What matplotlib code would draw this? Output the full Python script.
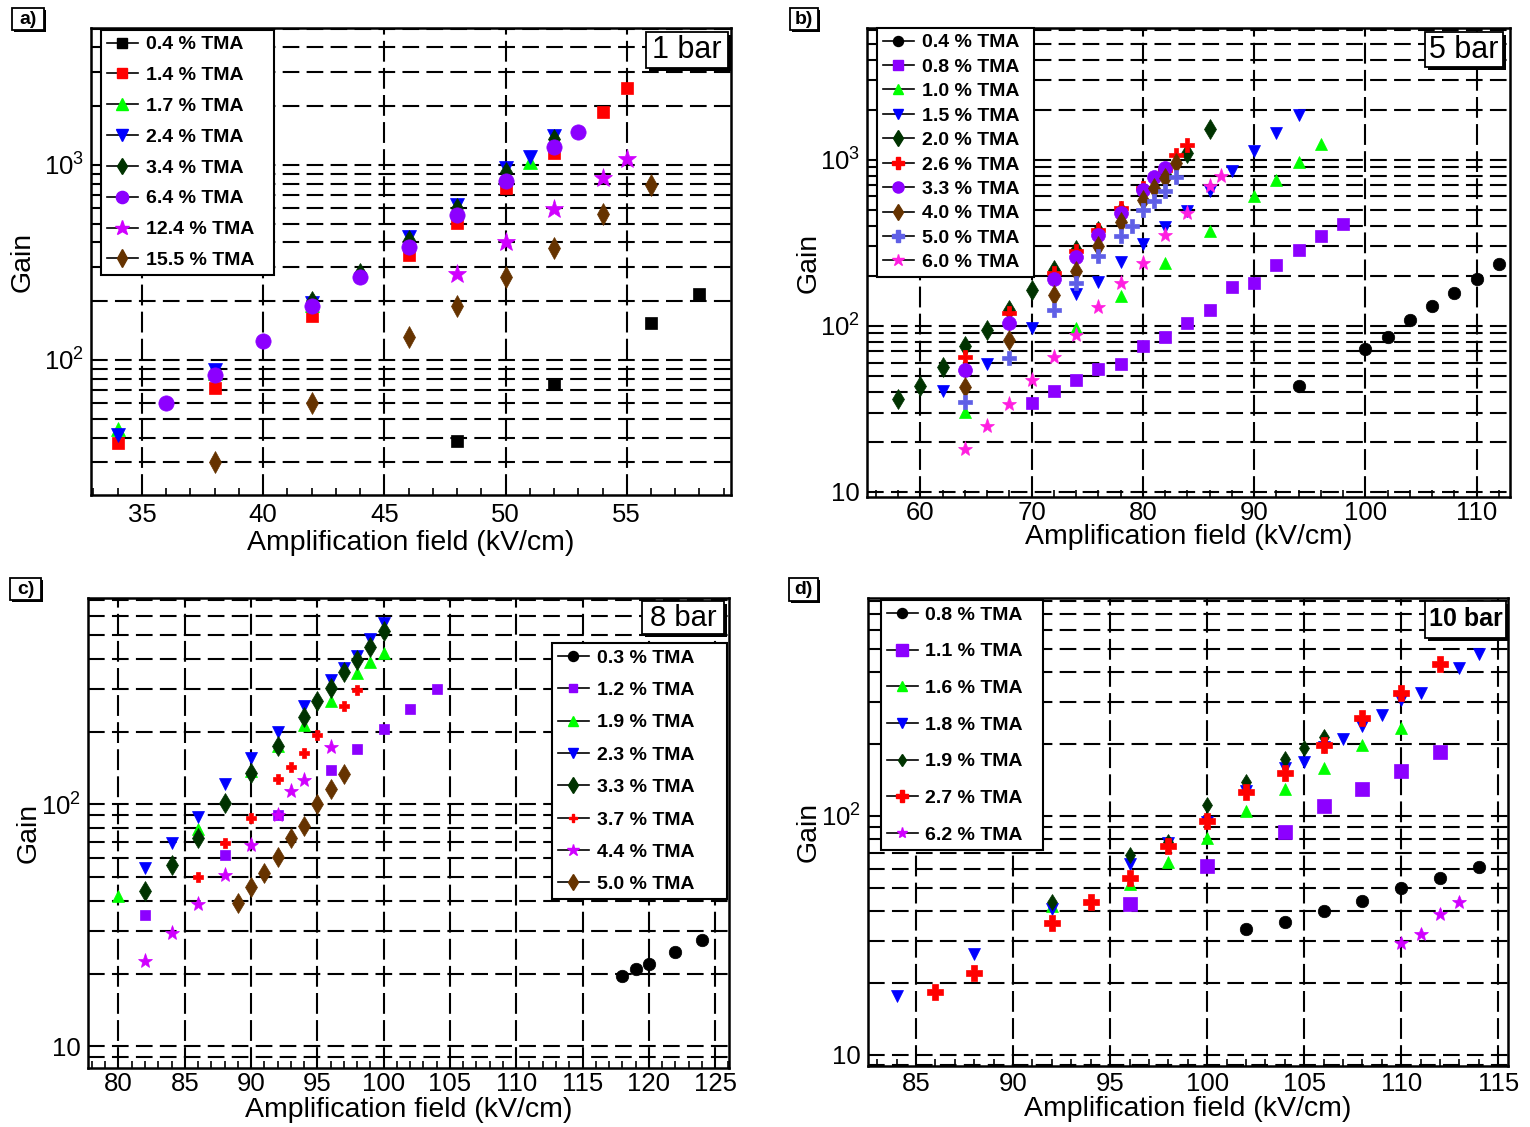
import numpy as np
import matplotlib
matplotlib.use("Agg")
import matplotlib.pyplot as plt
from matplotlib.lines import Line2D
from matplotlib.patches import Rectangle
from matplotlib.ticker import MultipleLocator, LogLocator, FuncFormatter, NullFormatter

plt.rcParams['font.family'] = ['Liberation Sans', 'DejaVu Sans']

W, H = 1530, 1127

# ---- a) 1 bar ----
a_x_04 = [48, 52, 56, 58]
a_g_04 = [38.5, 75, 155, 218]
a_x_14 = [34, 38, 42, 46, 48, 50, 52, 54, 55]
a_g_14 = [37.5, 72, 167, 345, 505, 765, 1150, 1876, 2470]
a_x_17 = [34, 38, 42, 44, 46, 48, 50, 51, 52]
a_g_17 = [44, 86, 192, 283, 410, 590, 900, 1040, 1330]
a_x_24 = [34, 38, 42, 46, 48, 50, 51, 52]
a_g_24 = [41, 89, 195, 425, 620, 962, 1103, 1410]
a_x_34 = [42, 44, 46, 48, 50, 52]
a_g_34 = [200, 280, 410, 600, 920, 1360]
a_x_64 = [36, 38, 40, 42, 44, 46, 48, 50, 52, 53]
a_g_64 = [60, 83.5, 125, 188, 266, 381, 552, 830, 1230, 1482]
a_x_124 = [48, 50, 52, 54, 55]
a_g_124 = [275, 404, 593, 855, 1069]
a_x_155 = [38, 42, 46, 48, 50, 52, 54, 56]
a_g_155 = [30, 60, 131, 189, 267, 374, 559, 789]

# ---- b) 5 bar ----
b_x_04 = [94, 100, 102, 104, 106, 108, 110, 112]
b_g_04 = [43.4, 72, 86, 108, 132, 157, 191, 235]
b_x_08 = [70, 72, 74, 76, 78, 80, 82, 84, 86, 88, 90, 92, 94, 96, 98]
b_g_08 = [34.4, 40.6, 47, 55, 58.6, 75, 86, 104.5, 124, 172, 180, 233, 284, 345, 411]
b_x_10 = [64, 74, 78, 82, 86, 90, 92, 94, 96]
b_g_10 = [30.3, 96.6, 151, 237, 373, 601, 757, 963, 1249]
b_x_15 = [62, 66, 70, 74, 76, 78, 80, 82, 84, 86, 88, 90, 92, 94]
b_g_15 = [40.6, 59, 96.6, 155, 184, 241, 311, 393, 488, 644, 851, 1122, 1449, 1868]
b_x_20 = [58, 60, 62, 64, 66, 68, 70, 72, 74, 76, 78, 80, 82, 84, 86]
b_g_20 = [36, 43.4, 56.6, 75, 94.4, 124, 164, 215, 285, 370, 490, 650, 820, 1100, 1531]
b_x_26 = [64, 68, 72, 74, 76, 78, 80, 82, 83, 84]
b_g_26 = [65, 119, 209, 280, 375, 508, 675, 870, 1060, 1231]
b_x_33 = [64, 68, 72, 74, 76, 78, 80, 81, 82]
b_g_33 = [54, 104.5, 191, 259, 353, 479, 655, 790, 891]
b_x_40 = [64, 68, 72, 74, 76, 78, 80, 81, 82, 83]
b_g_40 = [43, 82, 153, 212, 300, 421, 570, 670, 776, 955]
b_x_50 = [64, 68, 72, 74, 76, 78, 79, 80, 81, 82, 83]
b_g_50 = [34.9, 63.7, 124, 180, 261, 345, 400, 495, 561, 650, 790]
b_x_60 = [64, 66, 68, 70, 72, 74, 76, 78, 80, 82, 84, 86, 87]
b_g_60 = [18.2, 24.9, 33.8, 47, 64.6, 88, 129, 181, 238, 353, 479, 690, 801]

# ---- c) 8 bar ----
c_x_03 = [118, 119, 120, 122, 124]
c_g_03 = [19.6, 20.8, 22, 24.5, 27.5]
c_x_12 = [82, 88, 92, 96, 98, 100, 102, 104]
c_g_12 = [35, 62, 90.6, 139, 170, 205, 249, 300]
c_x_19 = [80, 86, 90, 92, 94, 96, 98, 99, 100]
c_g_19 = [41.7, 79, 138, 175, 213, 268, 350, 389, 423]
c_x_23 = [82, 84, 86, 88, 90, 92, 94, 96, 97, 98, 99, 100]
c_g_23 = [54.4, 69, 88.5, 122, 155, 199, 255, 327, 367, 410, 484, 560]
c_x_33 = [82, 84, 86, 88, 90, 92, 94, 95, 96, 97, 98, 99, 100]
c_g_33 = [43.7, 56, 72.6, 101.6, 135, 175, 230, 268, 304, 352, 397, 449, 520]
c_x_37 = [86, 88, 90, 92, 93, 94, 95, 97, 98]
c_g_37 = [50, 69, 87.7, 127, 143, 163, 193, 255, 298]
c_x_44 = [82, 84, 86, 88, 90, 92, 93, 94, 96]
c_g_44 = [22.5, 29.4, 38.7, 51, 68, 90.6, 113.5, 126, 173]
c_x_50 = [89, 90, 91, 92, 93, 94, 95, 96, 97]
c_g_50 = [39, 45.6, 52, 60.8, 72.6, 81.4, 100, 116, 134]

# ---- d) 10 bar ----
d_x_08 = [102, 104, 106, 108, 110, 112, 114]
d_g_08 = [33.7, 36, 40, 44, 50, 55, 61]
d_x_11 = [96, 100, 104, 106, 108, 110, 112]
d_g_11 = [42.7, 61.5, 86, 110, 130, 154, 185]
d_x_16 = [92, 96, 98, 100, 102, 104, 106, 108, 110]
d_g_16 = [42, 52, 64, 81, 104.5, 130, 159, 198, 234]
d_x_18 = [84, 88, 92, 96, 98, 100, 102, 104, 105, 106, 107, 108, 109, 110, 111, 113, 114]
d_g_18 = [17.6, 26.3, 40.6, 62.8, 76.8, 94.5, 127, 159, 169, 195, 211, 238, 265, 305, 327, 416, 476]
d_x_19 = [92, 96, 98, 100, 102, 104, 105, 106]
d_g_19 = [43.7, 68.7, 78, 111, 139, 174, 193, 215]
d_x_27 = [86, 88, 92, 94, 96, 98, 100, 102, 104, 106, 108, 110, 112]
d_g_27 = [18.2, 22, 35.7, 43.4, 55, 74.7, 95, 125.6, 151, 198, 258, 327, 434]
d_x_62 = [110, 111, 112, 113]
d_g_62 = [29.4, 32, 39, 43.4]

BLACK = 'black'
RED = '#ff0000'
GREEN = '#00ff00'
BLUE = '#0000ff'
DKGREEN = '#003300'
PURPLE = '#8c00ff'
VIOLET = '#d000ff'
BROWN = '#663300'
SLATE = '#5f5fe6'
PINK = '#ff1ee0'

# (x, gain, label, marker, colour, size)
series_a = [
    (a_x_04, a_g_04, '0.4 % TMA', 's', BLACK, 9),
    (a_x_14, a_g_14, '1.4 % TMA', 's', RED, 9),
    (a_x_17, a_g_17, '1.7 % TMA', '^', GREEN, 10),
    (a_x_24, a_g_24, '2.4 % TMA', 'v', BLUE, 10),
    (a_x_34, a_g_34, '3.4 % TMA', 'd', DKGREEN, 10),
    (a_x_64, a_g_64, '6.4 % TMA', 'o', PURPLE, 11),
    (a_x_124, a_g_124, '12.4 % TMA', '*', VIOLET, 14),
    (a_x_155, a_g_155, '15.5 % TMA', 'd', BROWN, 11),
]
series_b = [
    (b_x_04, b_g_04, '0.4 % TMA', 'o', BLACK, 9),
    (b_x_08, b_g_08, '0.8 % TMA', 's', PURPLE, 9),
    (b_x_10, b_g_10, '1.0 % TMA', '^', GREEN, 9),
    (b_x_15, b_g_15, '1.5 % TMA', 'v', BLUE, 9),
    (b_x_20, b_g_20, '2.0 % TMA', 'd', DKGREEN, 10),
    (b_x_26, b_g_26, '2.6 % TMA', 'P', RED, 10),
    (b_x_33, b_g_33, '3.3 % TMA', 'o', PURPLE, 10),
    (b_x_40, b_g_40, '4.0 % TMA', 'd', BROWN, 10),
    (b_x_50, b_g_50, '5.0 % TMA', 'P', SLATE, 10),
    (b_x_60, b_g_60, '6.0 % TMA', '*', PINK, 11),
]
series_c = [
    (c_x_03, c_g_03, '0.3 % TMA', 'o', BLACK, 9),
    (c_x_12, c_g_12, '1.2 % TMA', 's', PURPLE, 7),
    (c_x_19, c_g_19, '1.9 % TMA', '^', GREEN, 9),
    (c_x_23, c_g_23, '2.3 % TMA', 'v', BLUE, 9),
    (c_x_33, c_g_33, '3.3 % TMA', 'd', DKGREEN, 10),
    (c_x_37, c_g_37, '3.7 % TMA', 'P', RED, 7),
    (c_x_44, c_g_44, '4.4 % TMA', '*', VIOLET, 11),
    (c_x_50, c_g_50, '5.0 % TMA', 'd', BROWN, 10),
]
series_d = [
    (d_x_08, d_g_08, '0.8 % TMA', 'o', BLACK, 9),
    (d_x_11, d_g_11, '1.1 % TMA', 's', PURPLE, 10),
    (d_x_16, d_g_16, '1.6 % TMA', '^', GREEN, 9),
    (d_x_18, d_g_18, '1.8 % TMA', 'v', BLUE, 9),
    (d_x_19, d_g_19, '1.9 % TMA', 'd', DKGREEN, 8),
    (d_x_27, d_g_27, '2.7 % TMA', 'P', RED, 11),
    (d_x_62, d_g_62, '6.2 % TMA', '*', VIOLET, 10),
]

fig = plt.figure(figsize=(W / 100, H / 100), dpi=100)


def gain_fmt(v, pos):
    if abs(v - 10) < 1e-6:
        return '10'
    return r'$\mathdefault{10^{%d}}$' % int(round(np.log10(v)))


def panel(box, xlim, ylim, xmaj, xmin, series, xlab_y, ylab_x, xpad=3):
    l, t, r, b = box
    ax = fig.add_axes([l / W, 1 - b / H, (r - l) / W, (b - t) / H])
    ax.set_yscale('log')
    ax.set_xlim(xlim)
    ax.set_ylim(ylim)
    ax.xaxis.set_major_locator(MultipleLocator(xmaj))
    ax.xaxis.set_minor_locator(MultipleLocator(xmin))
    ax.yaxis.set_major_locator(LogLocator(base=10, numticks=10))
    ax.yaxis.set_minor_locator(LogLocator(base=10, subs=np.arange(2, 10), numticks=30))
    ax.yaxis.set_major_formatter(FuncFormatter(gain_fmt))
    ax.yaxis.set_minor_formatter(NullFormatter())
    ax.tick_params(which='both', direction='in', width=1.2, labelsize=18.5)
    ax.tick_params(axis='x', pad=xpad)
    ax.tick_params(axis='y', pad=5)
    ax.tick_params(which='major', length=10)
    ax.tick_params(which='minor', length=5)
    ax.grid(True, which='major', axis='x', color='black', lw=1.5, linestyle=(0, (10, 3)))
    ax.grid(True, which='both', axis='y', color='black', lw=1.5, linestyle=(0, (8, 3.5)))
    for s in ax.spines.values():
        s.set_linewidth(1.8)
    ax.set_axisbelow(True)
    for x, g, lab, m, c, ms in series:
        ax.plot(x, g, linestyle='none', marker=m, ms=ms, mfc=c, mec=c, mew=0.5)
    ax.set_xlabel('Amplification field (kV/cm)', fontsize=20.5)
    ax.set_ylabel('Gain', fontsize=20.5)
    ax.xaxis.set_label_coords(0.5, xlab_y)
    ax.yaxis.set_label_coords(ylab_x, 0.5)
    return ax


def add_legend(ax, series, x0, top, width, spacing):
    handles = [Line2D([], [], color='black', lw=1.2, marker=m, ms=ms * 0.8, mfc=c, mec=c)
               for x, g, lab, m, c, ms in series]
    labels = [s[2] for s in series]
    leg = ax.legend(handles, labels, loc='upper left', bbox_to_anchor=(x0, 0, width, top),
                    mode='expand', borderaxespad=0,
                    frameon=True, fancybox=False, framealpha=1, edgecolor='black',
                    prop={'weight': 'bold', 'size': 14}, handlelength=1.6,
                    handletextpad=0.4, labelspacing=spacing, borderpad=0.3)
    leg.get_frame().set_linewidth(1.5)
    return leg


def label_box(x0, y0, x1, y1, text, fs, weight='normal', sh=3):
    fig.add_artist(Rectangle(((x0 + sh) / W, 1 - (y1 + sh) / H), (x1 - x0) / W, (y1 - y0) / H,
                             transform=fig.transFigure, fc='black', ec='none', zorder=10))
    fig.add_artist(Rectangle((x0 / W, 1 - y1 / H), (x1 - x0) / W, (y1 - y0) / H,
                             transform=fig.transFigure, fc='white', ec='black', lw=1.3, zorder=11))
    fig.text((x0 + x1) / 2 / W, 1 - (y0 + y1) / 2 / H, text, ha='center', va='center',
             fontsize=fs, fontweight=weight, zorder=12)


ax_a = panel((91, 28, 731, 495), (32.9, 59.3), (20.3, 5030), 5, 1, series_a, -0.076, -0.086, xpad=6)
add_legend(ax_a, series_a, 0.0156, 0.996, 0.27, 0.68)

ax_b = panel((867, 28, 1510, 497), (55.2, 113), (9.3, 6200), 10, 2, series_b, -0.058, -0.07)
add_legend(ax_b, series_b, 0.0156, 1.0, 0.244, 0.35)

ax_c = panel((88, 598, 729, 1068), (77.7, 126.05), (8.14, 713), 5, 1, series_c, -0.062, -0.072)
add_legend(ax_c, series_c, 0.724, 0.904, 0.273, 0.76)

ax_d = panel((867.5, 598, 1508, 1066), (82.5, 115.5), (8.95, 820), 5, 1, series_d, -0.064, -0.071, xpad=4)
add_legend(ax_d, series_d, 0.0206, 0.995, 0.253, 0.98)

label_box(12, 8, 44, 30, 'a)', 14, 'bold', 2)
label_box(790, 8, 818, 30, 'b)', 14, 'bold', 2)
label_box(10, 578, 41, 600, 'c)', 14, 'bold', 2)
label_box(789, 578, 818, 601, 'd)', 14, 'bold', 2)

label_box(646, 32, 728, 68, '1 bar', 22)
label_box(1425, 32, 1503, 67, '5 bar', 22)
label_box(642, 601, 724, 634, '8 bar', 21)
label_box(1425, 601, 1506, 638, '10 bar', 18, 'bold')

fig.savefig('out.png', dpi=100)
